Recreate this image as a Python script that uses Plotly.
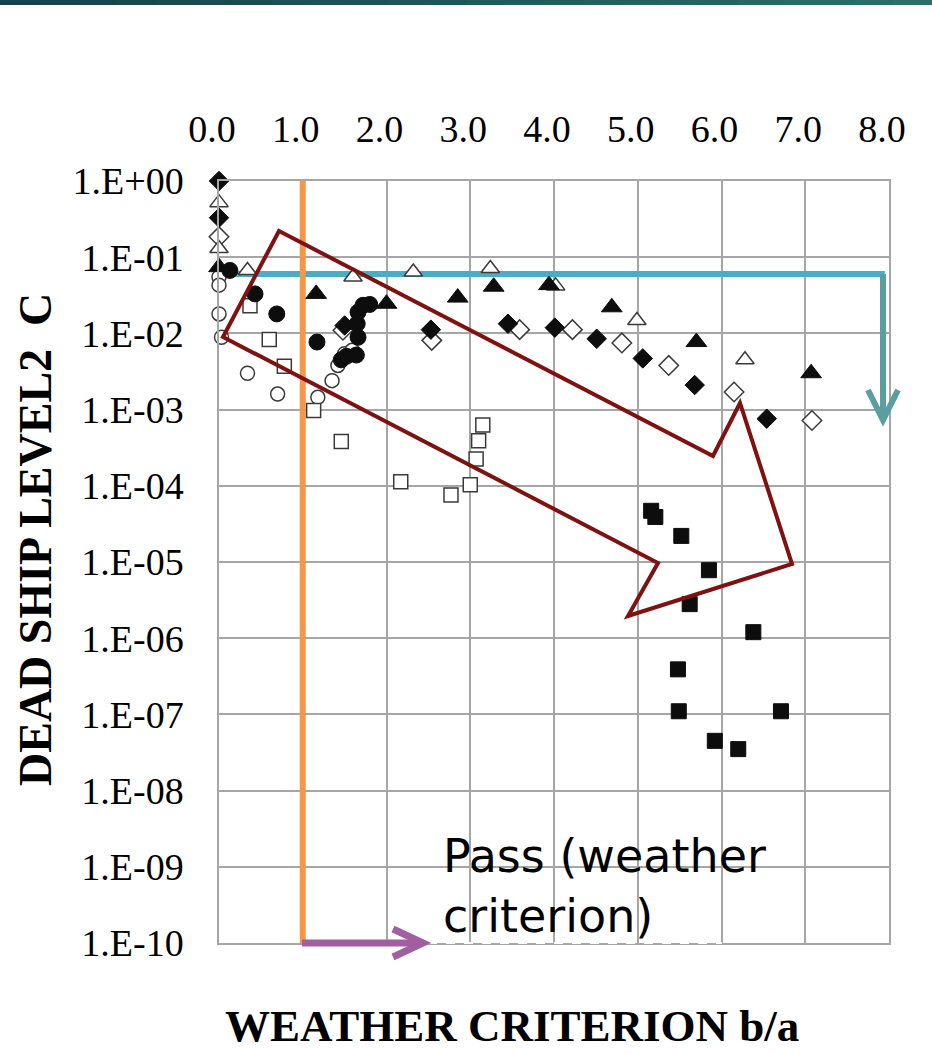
import plotly.graph_objects as go

# ---------------- data ----------------
fd_x = [0.0, 0.0, 1.50, 2.53, 3.45, 4.01, 4.51, 5.06, 5.68, 6.54]
fd_y = [1.0, 0.33, 0.0127, 0.0112, 0.0134, 0.0119, 0.0085, 0.0047, 0.0021, 0.00076]

od_x = [0.0, 1.48, 2.54, 3.59, 4.22, 4.81, 5.37, 6.15, 7.08]
od_y = [0.186, 0.011, 0.0081, 0.0112, 0.0112, 0.0075, 0.0038, 0.0017, 0.00072]

ft_x = [0.0, 1.16, 2.00, 2.85, 3.28, 3.94, 4.69, 5.70, 7.07]
ft_y = [0.074, 0.033, 0.0245, 0.0295, 0.041, 0.043, 0.022, 0.0077, 0.0030]

ot_x = [0.0, 0.0, 0.34, 1.60, 2.32, 3.24, 4.02, 4.99, 6.28]
ot_y = [0.52, 0.13, 0.067, 0.055, 0.064, 0.071, 0.042, 0.0148, 0.0045]

fc_x = [0.13, 0.43, 0.69, 1.17, 1.46, 1.52, 1.64, 1.66, 1.65, 1.66, 1.72, 1.80]
fc_y = [0.067, 0.033, 0.018, 0.0077, 0.0045, 0.0050, 0.0052, 0.0089, 0.0134, 0.019, 0.0234, 0.024]

oc_x = [0.0, 0.0, 0.0, 0.03, 0.34, 0.70, 1.18, 1.35, 1.42, 1.50, 1.59]
oc_y = [0.055, 0.043, 0.018, 0.0089, 0.0030, 0.0016, 0.00145, 0.0024, 0.0038, 0.0054, 0.0060]

os_x = [0.37, 0.60, 0.78, 1.13, 1.46, 2.17, 2.77, 3.00, 3.07, 3.10, 3.15]
os_y = [0.023, 0.0083, 0.0037, 0.00097, 0.00038, 0.000113, 0.000076, 0.000103, 0.000224, 0.00039, 0.00063]

fs_x = [5.16, 5.21, 5.52, 5.85, 5.62, 6.38, 5.48, 5.49, 6.71, 5.92, 6.20]
fs_y = [4.7e-5, 3.9e-5, 2.2e-5, 7.8e-6, 2.8e-6, 1.2e-6, 3.9e-7, 1.1e-7, 1.1e-7, 4.5e-8, 3.5e-8]

x_ticks = [0, 1, 2, 3, 4, 5, 6, 7, 8]
y_tickvals = [1e0, 1e-1, 1e-2, 1e-3, 1e-4, 1e-5, 1e-6, 1e-7, 1e-8, 1e-9, 1e-10]
y_ticktext = ["1.E+00", "1.E-01", "1.E-02", "1.E-03", "1.E-04", "1.E-05",
              "1.E-06", "1.E-07", "1.E-08", "1.E-09", "1.E-10"]

criterion_line = 1.0     # weather criterion b/a = 1
level2_line = 0.06       # level 2 C threshold

# ---------------- geometry helpers (plot area in pixels) ----------------
L, R, T, B = 219, 889, 181, 943
W_, H_ = 932, 1054


def px(x):
    return (x - L) / (R - L)


def py(y):
    return (B - y) / (B - T)


fig = go.Figure()

BLK = "#0d0d0d"
OUT = "#3a3a3a"


def add(xs, ys, symbol, size, filled):
    fig.add_trace(go.Scatter(
        x=xs, y=ys, mode="markers", cliponaxis=False,
        marker=dict(symbol=symbol, size=size,
                    color=BLK if filled else "white",
                    line=dict(color=BLK if filled else OUT, width=1 if filled else 1.5)),
        showlegend=False, hoverinfo="x+y"))


add(od_x, od_y, "diamond", 15, False)
add(ot_x, ot_y, "triangle-up", 16, False)
add(oc_x, oc_y, "circle", 14, False)
add(os_x, os_y, "square", 14, False)
add(fd_x, fd_y, "diamond", 15, True)
add(ft_x, ft_y, "triangle-up", 18, True)
add(fc_x, fc_y, "circle", 16, True)
add(fs_x, fs_y, "square", 15, True)

shapes = []
# top gradient band
n = 24
c0 = (0x16, 0x42, 0x4b)
c1 = (0x2f, 0x6d, 0x67)
for i in range(n):
    t = i / (n - 1)
    col = "rgb(%d,%d,%d)" % tuple(int(c0[k] + (c1[k] - c0[k]) * t) for k in range(3))
    shapes.append(dict(type="rect", xref="paper", yref="paper",
                       x0=px(i * W_ / n), x1=px((i + 1) * W_ / n + 1),
                       y0=py(5), y1=py(0), fillcolor=col, line=dict(width=0), layer="above"))

# horizontal blue threshold line
shapes.append(dict(type="line", xref="x", yref="y", x0=0, x1=7.95, y0=level2_line, y1=level2_line,
                   line=dict(color="#4BACC6", width=6), layer="between"))
# orange vertical criterion line
shapes.append(dict(type="line", xref="x", yref="y", x0=criterion_line, x1=criterion_line, y0=1e-10, y1=1,
                   line=dict(color="#F79646", width=6), layer="between"))

# teal downward arrow
teal = "#5A9EA0"
ax_, ay0, ay1 = 883, 274, 420
shapes.append(dict(type="path", xref="paper", yref="paper",
                   path="M %f,%f L %f,%f" % (px(ax_), py(ay0), px(ax_), py(ay1)),
                   line=dict(color=teal, width=6)))
shapes.append(dict(type="path", xref="paper", yref="paper",
                   path="M %f,%f L %f,%f L %f,%f" % (px(868), py(390), px(ax_), py(ay1), px(898), py(390)),
                   line=dict(color=teal, width=6)))

# white dashed line on bottom
shapes.append(dict(type="line", xref="paper", yref="paper", x0=px(428), x1=px(722), y0=0, y1=0,
                   line=dict(color="white", width=2, dash="dash"), layer="above"))

# purple arrow
purple = "#A060A0"
shapes.append(dict(type="path", xref="paper", yref="paper",
                   path="M %f,%f L %f,%f" % (px(302), py(943), px(421), py(943)),
                   line=dict(color=purple, width=7)))
shapes.append(dict(type="path", xref="paper", yref="paper",
                   path="M %f,%f L %f,%f L %f,%f" % (px(393), py(929), px(423), py(943), px(393), py(957)),
                   line=dict(color=purple, width=7)))

# dark red outlined arrow
poly = [(279, 231), (713, 456), (740, 403), (792, 564), (628, 616), (658, 563), (223, 337)]
path = "M " + " L ".join("%f,%f" % (px(a), py(b)) for a, b in poly) + " Z"
shapes.append(dict(type="path", xref="paper", yref="paper", path=path,
                   line=dict(color="#7F1111", width=4), fillcolor="rgba(0,0,0,0)", layer="above"))

annotations = [
    dict(text="<b>DEAD SHIP LEVEL2\u00a0\u00a0C</b>", xref="paper", yref="paper",
         x=px(35), y=py(540), xanchor="center", yanchor="middle", textangle=-90, showarrow=False,
         font=dict(family="Liberation Serif", size=46, color="black")),
    dict(text="<b>WEATHER CRITERION b/a</b>", xref="paper", yref="paper",
         x=px(512), y=py(1026), xanchor="center", yanchor="middle", showarrow=False,
         font=dict(family="Liberation Serif", size=45, color="black")),
    dict(text="Pass (weather<br>criterion)", xref="paper", yref="paper",
         x=px(441), y=py(886), xanchor="left", yanchor="middle", align="left", showarrow=False,
         font=dict(family="DejaVu Sans", size=46, color="black")),
]

fig.update_layout(
    width=W_, height=H_,
    margin=dict(l=L, r=W_ - R, t=T, b=H_ - B),
    paper_bgcolor="white", plot_bgcolor="white",
    shapes=shapes, annotations=annotations,
    xaxis=dict(range=[0, 8], side="top", tickvals=x_ticks, tickformat=".1f",
               showgrid=True, gridcolor="#a6a6a6", gridwidth=1.5,
               showline=True, mirror=True, linecolor="#a6a6a6", linewidth=1.5,
               zeroline=False, ticks="", ticklabelstandoff=22, ticklabelshift=-7,
               tickfont=dict(family="Liberation Serif", size=38, color="black")),
    yaxis=dict(type="log", range=[-10, 0], tickvals=y_tickvals, ticktext=y_ticktext,
               showgrid=True, gridcolor="#a6a6a6", gridwidth=1.5,
               showline=True, mirror=True, linecolor="#a6a6a6", linewidth=1.5,
               zeroline=False, ticks="", ticklabelstandoff=26,
               tickfont=dict(family="Liberation Serif", size=38, color="black")),
)

fig.write_html("out.html", config={"displayModeBar": False},
               post_script="document.body.style.margin='0px';document.body.style.overflow='hidden';")
